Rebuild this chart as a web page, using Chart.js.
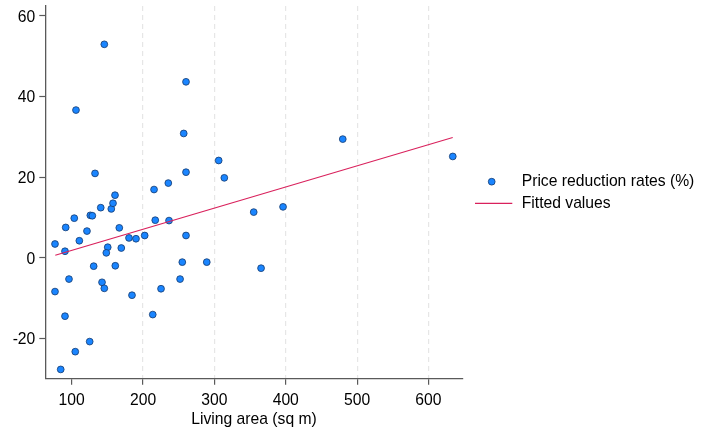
<!DOCTYPE html>
<html>
<head>
<meta charset="utf-8">
<script src="https://cdn.jsdelivr.net/npm/chart.js@4"></script>
<style>
html,body{margin:0;padding:0;background:#fff;}
#wrap{width:711px;height:432px;position:relative;}
</style>
</head>
<body>
<div id="wrap"><canvas id="c" width="711" height="432"></canvas></div>
<script>
// Living area (sq m)
const livingArea = [145.7,106,132.7,160.7,260.2,257,260.2,215.4,235.4,306,313.9,479.9,634.1,
  76.6,90.6,91.6,103.6,110.7,121.4,126.1,128.9,140.7,155.5,157.9,166.7,150.5,148.5,169.5,
  130.8,161.1,96.2,76.6,142.5,145.7,180.3,190.1,202.3,184.5,217.1,236.4,260.2,255,289.3,
  251.9,225.2,213.6,90.6,125.2,105,84.6,355.1,396.2,365.4];
// Price reduction rates (%)
const reductionRate = [52.9,36.6,20.9,15.5,43.6,30.8,21.2,16.9,18.5,24.1,19.8,29.4,25.1,
  3.4,1.6,7.5,9.8,4.2,6.6,10.5,10.4,12.4,12.1,13.5,7.4,2.6,1.2,2.4,
  -2.1,-2.0,-5.3,-8.4,-6.1,-7.6,4.9,4.7,5.5,-9.3,9.3,9.2,5.5,-1.1,-1.1,
  -5.3,-7.7,-14.1,-14.5,-20.8,-23.3,-27.7,11.3,12.6,-2.6];
// Fitted values (endpoints of the fitted line)
const fitX = [77, 634];
const fitY = [0.6, 29.8];
const xTicks = [100,200,300,400,500,600];
const yTicks = [-20,0,20,40,60];
const seriesLabels = ['Price reduction rates (%)','Fitted values'];

const FONT = "'Liberation Sans', Arial, sans-serif";
const FS = 15.7;
const AXIS = '#5a5a5a';
const DOT = '#1a85ff';
const DOTB = '#143a6e';
const FIT = '#d9215c';

const scatterData = livingArea.map((x,i)=>({x:x,y:reductionRate[i]}));
const fitData = fitX.map((x,i)=>({x:x,y:fitY[i]}));

const legendPlugin = {
  id:'customLegend',
  afterDraw(chart){
    const ctx = chart.ctx;
    ctx.save();
    ctx.font = FS + 'px ' + FONT;
    ctx.fillStyle = '#000';
    ctx.textBaseline = 'middle';
    ctx.textAlign = 'left';
    ctx.beginPath();
    ctx.arc(491.7, 181.7, 3.4, 0, Math.PI*2);
    ctx.fillStyle = DOT; ctx.fill();
    ctx.lineWidth = 0.8; ctx.strokeStyle = DOTB; ctx.stroke();
    ctx.fillStyle = '#000';
    ctx.fillText(seriesLabels[0], 521.7, 182);
    ctx.beginPath();
    ctx.moveTo(475, 203.3); ctx.lineTo(512.3, 203.3);
    ctx.strokeStyle = FIT; ctx.lineWidth = 1.2; ctx.stroke();
    ctx.fillText(seriesLabels[1], 521.7, 204);
    ctx.restore();
  }
};

new Chart(document.getElementById('c'), {
  type:'scatter',
  data:{
    datasets:[
      {type:'line', label:seriesLabels[1], data:fitData, borderColor:FIT, borderWidth:1.2,
       pointRadius:0, fill:false, order:0, tension:0},
      {type:'scatter', label:seriesLabels[0], data:scatterData, backgroundColor:DOT,
       borderColor:DOTB, borderWidth:0.8, pointRadius:3.4, order:1}
    ]
  },
  options:{
    responsive:false,
    animation:false,
    devicePixelRatio:1,
    layout:{padding:{left:0,top:6,right:248.3,bottom:0}},
    plugins:{legend:{display:false}, tooltip:{enabled:false}},
    scales:{
      x:{
        type:'linear', min:63, max:648,
        afterBuildTicks(s){ s.ticks = xTicks.map(v=>({value:v})); },
        afterFit(s){ s.height = 53.3; s.paddingLeft = 0; s.paddingRight = 0; },
        border:{display:true, color:AXIS, width:1.3, dash:[5,4]},
        grid:{
          display:true, drawOnChartArea:true, drawTicks:true, tickLength:6,
          color:(c)=> (c.tick && c.tick.value===100) ? 'rgba(0,0,0,0)' : '#e6e6e6',
          lineWidth:1.2, tickColor:AXIS, tickWidth:1.2, tickBorderDash:[]
        },
        ticks:{color:'#000', font:{family:FONT, size:FS}, padding:6.5, maxRotation:0, autoSkip:false},
        title:{display:true, text:'Living area (sq m)', color:'#000', font:{family:FONT, size:FS}, padding:{top:1,bottom:3}}
      },
      y:{
        type:'linear', min:-30, max:62.4,
        afterBuildTicks(s){ s.ticks = yTicks.map(v=>({value:v})); },
        afterFit(s){ s.width = 45.3; s.paddingTop = 0; s.paddingBottom = 0; },
        border:{display:true, color:AXIS, width:1.3},
        grid:{display:true, drawOnChartArea:false, drawTicks:true, tickLength:6, tickColor:AXIS, tickWidth:1.2},
        ticks:{color:'#000', font:{family:FONT, size:FS}, padding:4, labelOffset:1.5}
      }
    }
  },
  plugins:[legendPlugin]
});
</script>
</body>
</html>
